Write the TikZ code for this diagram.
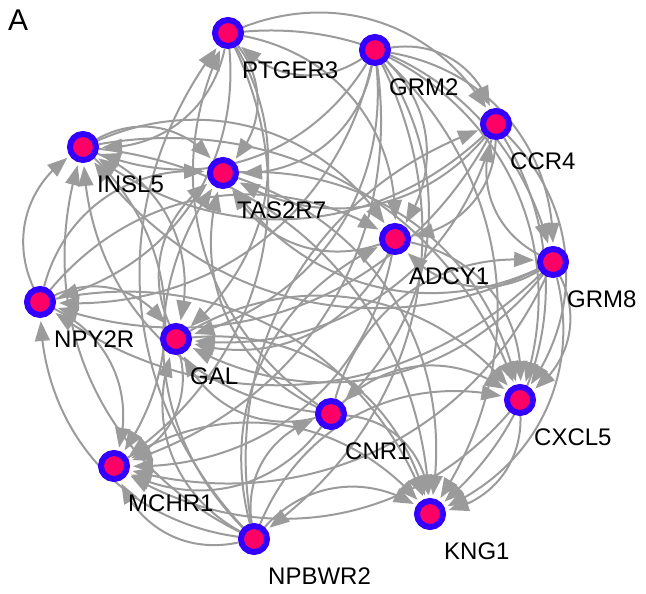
\documentclass[tikz,border=0pt]{standalone}
\usepackage{fontspec}
\setmainfont{Liberation Sans}
\usetikzlibrary{arrows.meta,bending,positioning,backgrounds}

\definecolor{ringblue}{RGB}{51,0,255}
\definecolor{genepink}{RGB}{255,0,102}
\definecolor{linkgray}{RGB}{155,155,155}

\begin{document}
\begin{tikzpicture}[x=1pt,y=1pt,node distance=29pt and 14pt,
    gene/.style={circle,draw=ringblue,line width=6pt,fill=genepink,minimum size=26pt,inner sep=0pt},
    gene label/.style={inner sep=0pt,font=\fontsize{24}{28}\selectfont},
    link/.style={draw=linkgray,line width=2pt,-{Triangle[length=20pt,width=15pt]},shorten >=3pt,bend left=40}]

  \useasboundingbox (0,0) rectangle (646,594);

  \node[anchor=north west,inner sep=0pt,font=\fontsize{30}{34}\selectfont] (panel) at (8,584) {A};

  % genes
  \node[gene] (ptger3) at (228,561) {};
  \node[gene] (grm2)   at (375,544) {};
  \node[gene] (ccr4)   at (496,470) {};
  \node[gene] (insl5)  at (83,447) {};
  \node[gene] (tas2r7) at (223,421) {};
  \node[gene] (adcy1)  at (395,355) {};
  \node[gene] (grm8)   at (553,332) {};
  \node[gene] (npy2r)  at (40,292) {};
  \node[gene] (gal)    at (176,255) {};
  \node[gene] (cnr1)   at (331,180) {};
  \node[gene] (cxcl5)  at (520,194) {};
  \node[gene] (mchr1)  at (114,128) {};
  \node[gene] (kng1)   at (430,80) {};
  \node[gene] (npbwr2) at (254,55) {};

  \node[gene label,below right=of ptger3.center] (ptger3 label) {PTGER3};
  \node[gene label,below right=of grm2.center]   (grm2 label)   {GRM2};
  \node[gene label,below right=of ccr4.center]   (ccr4 label)   {CCR4};
  \node[gene label,below right=of insl5.center]  (insl5 label)  {INSL5};
  \node[gene label,below right=of tas2r7.center] (tas2r7 label) {TAS2R7};
  \node[gene label,below right=of adcy1.center]  (adcy1 label)  {ADCY1};
  \node[gene label,below right=of grm8.center]   (grm8 label)   {GRM8};
  \node[gene label,below right=of npy2r.center]  (npy2r label)  {NPY2R};
  \node[gene label,below right=of gal.center]    (gal label)    {GAL};
  \node[gene label,below right=of cnr1.center]   (cnr1 label)   {CNR1};
  \node[gene label,below right=of cxcl5.center]  (cxcl5 label)  {CXCL5};
  \node[gene label,below right=of mchr1.center]  (mchr1 label)  {MCHR1};
  \node[gene label,below right=of kng1.center]   (kng1 label)   {KNG1};
  \node[gene label,below right=of npbwr2.center] (npbwr2 label) {NPBWR2};

  % interactions
  \begin{scope}[on background layer]
    \foreach \src/\dst in {grm2/npbwr2,grm2/cnr1,grm2/ptger3,grm2/grm8,grm2/ccr4,grm2/npy2r,
        grm2/insl5,grm2/adcy1,grm2/gal,grm2/tas2r7,grm2/cxcl5,grm2/mchr1,grm2/kng1,
        npbwr2/cnr1,npbwr2/ptger3,npbwr2/ccr4,npbwr2/npy2r,npbwr2/insl5,npbwr2/adcy1,
        npbwr2/gal,npbwr2/tas2r7,npbwr2/cxcl5,npbwr2/mchr1,npbwr2/kng1,
        cnr1/ptger3,cnr1/grm8,cnr1/insl5,cnr1/gal,cnr1/tas2r7,cnr1/cxcl5,cnr1/mchr1,cnr1/kng1,
        ptger3/grm8,ptger3/ccr4,ptger3/npy2r,ptger3/insl5,ptger3/adcy1,ptger3/gal,
        ptger3/tas2r7,ptger3/mchr1,
        grm8/ccr4,grm8/npy2r,grm8/insl5,grm8/adcy1,grm8/gal,grm8/tas2r7,grm8/cxcl5,
        grm8/mchr1,grm8/kng1,
        ccr4/npy2r,ccr4/insl5,ccr4/adcy1,ccr4/gal,ccr4/tas2r7,ccr4/cxcl5,ccr4/kng1,
        npy2r/insl5,npy2r/adcy1,npy2r/gal,npy2r/tas2r7,npy2r/mchr1,npy2r/kng1,
        insl5/adcy1,insl5/gal,insl5/tas2r7,insl5/cxcl5,insl5/mchr1,insl5/kng1,
        adcy1/gal,adcy1/tas2r7,adcy1/cxcl5,adcy1/mchr1,
        gal/tas2r7,gal/cxcl5,gal/mchr1,gal/kng1,
        tas2r7/cxcl5,tas2r7/kng1,
        cxcl5/mchr1,cxcl5/kng1,
        mchr1/kng1}
      \path (\src) edge[link] (\dst);
  \end{scope}
\end{tikzpicture}
\end{document}
